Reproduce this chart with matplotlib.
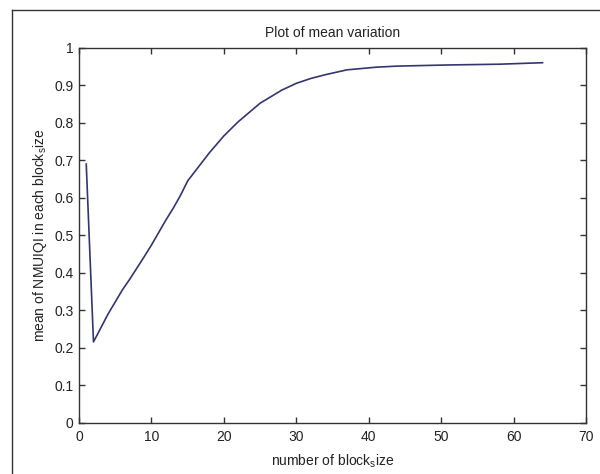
import matplotlib
matplotlib.use("Agg")
import matplotlib.pyplot as plt
from matplotlib.lines import Line2D

# Data
block_size = [1, 2, 4, 6, 7, 9, 10, 12, 13, 14, 15, 18, 20, 22, 25, 28, 30, 32, 34, 37, 41, 44, 51, 58, 64]
mean_nmuiqi = [0.69, 0.216, 0.29, 0.355, 0.383, 0.443, 0.474, 0.541, 0.572, 0.606, 0.645, 0.72, 0.765,
               0.803, 0.852, 0.887, 0.905, 0.918, 0.928, 0.941, 0.948, 0.951, 0.954, 0.956, 0.96]

x_ticks = [0, 10, 20, 30, 40, 50, 60, 70]
y_ticks = [0, 0.1, 0.2, 0.3, 0.4, 0.5, 0.6, 0.7, 0.8, 0.9, 1]
y_tick_labels = ["0", "0.1", "0.2", "0.3", "0.4", "0.5", "0.6", "0.7", "0.8", "0.9", "1"]

plt.rcParams['font.family'] = ['Liberation Sans', 'DejaVu Sans']
plt.rcParams['mathtext.fontset'] = 'custom'
plt.rcParams['mathtext.rm'] = 'Liberation Sans'

fig = plt.figure(figsize=(6.0, 4.74), dpi=100)
fig.patch.set_facecolor('white')

W, H = 600, 474
ax = fig.add_axes([79 / W, 1 - 423 / H, (586 - 79) / W, (423 - 47.7) / H])

ax.plot(block_size, mean_nmuiqi, color='#33366c', linewidth=1.2)

ax.set_xlim(0, 70)
ax.set_ylim(0, 1)
ax.set_xticks(x_ticks)
ax.set_yticks(y_ticks)
ax.set_yticklabels(y_tick_labels)

for s in ax.spines.values():
    s.set_color('#333333')
    s.set_linewidth(1.0)

ax.tick_params(direction='in', length=4, width=1, color='#333333',
               top=True, right=True, labelsize=10, labelcolor='#222222')
ax.tick_params(axis='x', pad=5)
ax.tick_params(axis='y', pad=4)

ax.set_title('Plot of mean variation', fontsize=10, color='#222222', pad=8)
ax.set_xlabel(r'number of block$_{\mathrm{s}}$ize', fontsize=10, color='#222222', labelpad=6)
ax.set_ylabel(r'mean of NMUIQI in each block$_{\mathrm{s}}$ize', fontsize=10, color='#222222', labelpad=4)

# outer frame (left and top edges visible)
fig.add_artist(Line2D([11.7 / W, 11.7 / W], [0, 1 - 10 / H], transform=fig.transFigure,
                      color='#333333', linewidth=1.0))
fig.add_artist(Line2D([11.7 / W, 1], [1 - 10 / H, 1 - 10 / H], transform=fig.transFigure,
                      color='#333333', linewidth=1.0))

fig.savefig('out.png', dpi=100, facecolor='white')
